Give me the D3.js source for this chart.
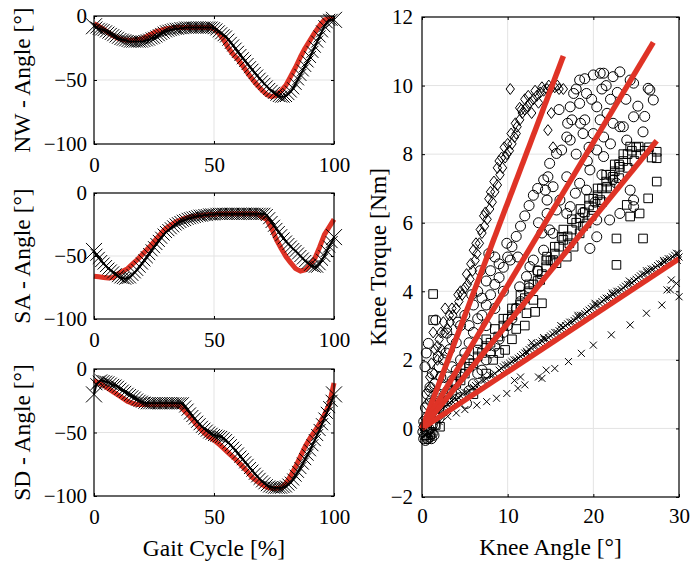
<!DOCTYPE html>
<html><head><meta charset="utf-8">
<script src="https://cdn.jsdelivr.net/npm/d3@7"></script>
<style>
body{margin:0;background:#fff}
svg{display:block}
text{font-family:"Liberation Serif","Times New Roman",serif;fill:#000}
</style>
</head><body>
<svg id="c" width="691" height="566"></svg>
<script>
// ---------- DATA ----------
const gaitTicks = [0, 50, 100];
const angleTicks = [-100, -50, 0];
const gaitMeasX = d3.range(0, 101, 1);
const gaitRefX = d3.range(0, 101, 2);

const nwMeas = [-8,-9,-10,-10.5,-11,-12,-13,-14,-15,-16,-17,-18,-18.5,-19,-19.5,-20,-20,-20,-20,-20,-20,-19.5,-19,-18.5,-17.5,-17,-16,-15,-14,-13,-12,-11.5,-11,-10.5,-10,-10,-9.5,-9.5,-9,-9,-9,-9,-9,-9,-9,-9,-9,-9,-9,-9,-9.5,-10.5,-12,-13.5,-15,-16,-18.5,-21,-23,-25.5,-28,-30.5,-33,-35,-37.5,-40,-42,-44.5,-46.5,-49,-51,-53,-55,-57,-58.5,-60,-61.5,-62.5,-63,-63,-62.5,-61,-59,-56.5,-53,-49.5,-46,-42.5,-39,-35.5,-32,-28,-24,-20,-16,-12,-8,-5,-3,-3,-3];
const nwRef = [-6,-8,-10.5,-13,-15.5,-17.5,-18.5,-19,-19,-18.5,-18,-16,-14,-12,-11,-10,-9.5,-9,-9,-9,-9,-9,-9,-9,-9,-10,-13.5,-18.5,-25,-30,-34,-39,-44.5,-49.5,-54,-58,-61.5,-63,-62,-58.5,-54,-47,-40,-32,-25,-19,-13,-7.5,-3,-2,-2];

const saMeas = [-46,-49,-51.5,-54,-56,-58,-60,-61.5,-63,-64.5,-66,-67,-67.5,-68,-67.5,-67,-65,-63,-61,-58.5,-56,-53.5,-51,-48.5,-45.5,-43,-40.5,-38,-35.5,-33,-31,-29.5,-28,-26.5,-25,-24,-23,-22,-21.5,-20.5,-20,-19.5,-19,-18.5,-18,-18,-17.5,-17.5,-17,-17,-17,-16.5,-16.5,-16.5,-16.5,-16.5,-16.5,-16.5,-16.5,-16.5,-16.5,-16.5,-16.5,-16.5,-16.5,-16.5,-16.5,-16.5,-16.5,-16.5,-16.5,-16.5,-17.5,-20,-23,-26,-28.5,-31,-33.5,-36,-38.5,-40.5,-42.5,-44.5,-46,-48,-50,-52,-54,-55.5,-57,-58,-58.5,-58.5,-56.5,-53,-50,-46,-42.5,-39,-35];
const saRef = [-66,-66.5,-67,-67.5,-67,-64,-62,-60,-56.5,-53,-49,-45,-41,-36.5,-32,-28,-25.5,-23,-21.5,-20,-19,-18.5,-18,-17.5,-17,-17,-16.5,-16.5,-16.5,-16.5,-16.5,-16.5,-16.5,-16.5,-16.5,-19,-21,-28,-37,-44,-50.5,-55.5,-60,-62,-61,-57,-52,-43,-33,-27,-21];

const sdMeas = [-20,-12,-10,-9,-9.5,-10,-10.5,-11.5,-12.5,-13,-14,-15.5,-17,-18,-19.5,-20.5,-21.5,-22.5,-24,-25,-25.7,-26.5,-27,-27,-27,-27,-27,-27,-27,-27,-27,-27,-27,-27,-27,-27,-27,-27,-29.5,-32,-35,-37,-39,-41.5,-43.5,-45.5,-47,-48.5,-50,-51,-52,-52.5,-53,-53.5,-54.5,-56,-58,-60,-62,-64,-66.5,-69,-71,-73.5,-75.5,-78,-80,-82.5,-84.5,-86.5,-88.5,-90,-91.5,-92.5,-93,-93.5,-93.5,-93.5,-93.5,-93,-92.5,-91,-89.5,-87,-84,-81,-78,-74.5,-71,-67.5,-64,-60,-56,-52,-48,-43.5,-39,-34.5,-30,-25,-20];
const sdRef = [-9,-11,-13,-15.5,-18,-20.5,-23,-25.5,-27,-28,-28,-28,-28,-28,-28,-28,-28,-28,-29.5,-33.5,-37.5,-42,-46.5,-50.5,-53.5,-56,-59,-62.5,-66,-69.5,-73,-77,-81,-85.5,-88.5,-91,-93,-94,-94,-93.5,-90,-84,-77,-69,-61,-54.5,-49,-43,-36,-28,-11];

const panelLabels = ["NW - Angle [°]", "SA - Angle [°]", "SD - Angle [°]"];

const kneeAngleTicks = [0, 10, 20, 30];
const torqueTicks = [-2, 0, 2, 4, 6, 8, 10, 12];

// fitted lines (end points, all start at origin)
const fitAngleEnd = [16.5, 27.0, 27.4, 30.0];
const fitTorqueEnd = [10.86, 11.26, 8.39, 4.95];

const diamondPts = [[0.1,0.05],[0.3,0.3],[0.5,0.7],[0.7,1.1],[0.9,1.5],[1.1,1.9],[1.3,2.8],[1.5,2.3],[1.8,2.0],[2.0,2.6],[2.3,2.3],[2.7,3.5],[2.6,2.8],[3.0,2.9],[3.3,3.1],[3.6,3.3],[4.0,3.5],[4.3,3.7],[4.7,3.9],[5.0,4.1],[5.3,4.2],[5.6,4.35],[5.9,4.6],[6.2,4.9],[6.4,5.1],[6.7,5.4],[7.0,5.7],[7.3,5.9],[7.6,6.1],[7.9,6.4],[8.2,6.6],[8.5,6.9],[8.8,7.1],[9.1,7.4],[9.4,7.6],[9.7,7.9],[9.9,8.0],[10.2,8.1],[10.5,8.3],[10.8,8.5],[11.1,8.8],[11.4,9.0],[11.7,9.2],[12.0,9.3],[12.3,9.4],[12.6,9.5],[13.0,9.6],[13.4,9.7],[13.8,9.8],[14.2,9.85],[14.6,9.9],[15.0,9.9],[15.5,9.95],[16.0,9.9],[16.5,9.9],[10.3,9.9],[11.4,9.35],[12.0,9.6],[15.1,9.2],[14.7,8.7],[15.3,8.2],[8.0,6.9],[9.0,7.8],[6.0,5.2],[4.2,3.9],[3.2,3.3],[7.2,6.2],[10.0,8.3],[11.0,8.6],[12.8,9.2],
 [1.0,1.2],[1.4,1.6],[1.8,2.4],[2.2,2.8],[2.5,3.1],[3.5,3.5],[4.5,4.0],[5.2,4.5],[5.7,4.8],[6.3,5.4],[6.8,5.8],[7.4,6.3],[7.8,6.7],[8.4,7.2],[8.8,7.6],[9.3,7.9],[9.6,8.2],[10.4,8.6],[10.9,8.9],[11.6,9.3],[12.4,9.7],[13.2,9.85],[14.0,9.95],[14.8,10.0],[15.8,10.0],[13.6,9.5]];

const circlePts = [[0.2,0.2],[0.4,0.6],[0.35,1.8],[0.5,2.2],[0.74,2.48],[0.93,1.2],[1.0,0.8],[1.6,3.16],[1.9,2.1],[2.9,2.78],[1.2,1.6],[0.6,1.0],[1.5,1.3],[2.2,1.5],[2.5,2.0],[3.2,2.3],[3.5,1.8],[4.0,2.5],[4.5,3.0],[5.0,3.3],[5.5,3.0],[6.0,3.6],[6.5,4.0],[7.0,3.8],[7.5,4.3],[8.0,4.6],[8.5,5.0],[9.0,4.8],[9.9,5.4],[10.3,4.91],[11.2,5.0],[12.6,4.72],[11.4,4.13],[12.2,4.43],[13.0,4.91],[14.2,5.2],[14.9,5.79],[15.3,5.69],[15.7,6.37],[16.9,6.27],[14.6,6.66],[15.3,7.05],[14.2,7.25],[14.9,7.73],[15.7,8.02],[14.4,6.95],[14.7,7.34],[16.3,8.12],[16.9,8.5],[17.3,8.41],[17.5,9.0],[17.3,9.38],[17.7,9.77],[18.4,10.16],[18.4,9.48],[19.2,9.77],[20.0,10.31],[20.8,10.36],[21.2,10.36],[22.3,10.26],[23.1,10.4],[24.3,10.16],[24.7,10.07],[26.4,9.92],[26.6,9.87],[27.0,9.58],[20.4,9.38],[21.6,9.19],[22.3,8.9],[23.1,8.8],[24.7,9.09],[25.8,8.65],[23.9,8.41],[23.5,8.8],[21.2,8.5],[20.4,8.12],[21.2,7.93],[19.6,7.54],[18.4,7.15],[17.9,6.86],[17.3,6.47],[19.2,6.95],[22.7,7.15],[22.3,7.25],[24.3,6.95],[24.7,6.66],[24.7,6.47],[23.1,6.27],[16.1,6.66],[14.6,6.27],[16.9,7.34],[20.4,5.59],[19.6,5.25],[21.9,6.08],[20.4,6.08],[19.0,9.0],[19.8,9.6],[21.0,9.9],[22.0,9.6],[18.8,8.6],[19.5,8.2],[20.8,9.0],[17.0,8.9],[18.0,8.0],[3.0,0.8],[4.0,1.0],[5.2,0.73],[6.0,1.3],[7.0,1.7],[4.5,1.5],[8.0,2.2],[9.0,2.6],[10.0,3.0],[11.0,3.5],[5.5,2.0],[6.5,2.5],[7.5,3.0],[8.5,3.5],[9.5,4.0],[3.0,1.5],[0.3,-0.2],[0.6,-0.3],[0.9,-0.25],[1.2,-0.15],[0.5,-0.05],[1.5,0.1],[2.0,0.3],
 [1.5,0.8],[2.0,1.0],[2.5,1.2],[3.0,1.1],[3.5,1.4],[4.0,1.7],[4.5,2.0],[5.0,2.2],[5.5,2.5],[6.0,2.8],[6.5,3.2],[7.0,3.3],[7.5,3.6],[8.0,3.9],[8.5,4.2],[9.0,4.4],[9.5,4.7],[10.0,5.0],[10.5,5.3],[11.0,5.6],[11.5,5.9],[12.0,6.2],[12.5,6.5],[13.0,6.8],[13.5,7.0],[3.5,2.6],[4.2,3.1],[5.8,3.9],[6.8,4.6],[7.8,5.1],[2.0,1.8],[2.8,2.2],[1.0,0.4],[2.5,0.5],[4.5,0.9],[5.5,1.1],[6.5,1.6],[7.5,2.0],[8.5,2.4],[9.5,2.8],[10.5,3.2],[11.5,3.7],[12.5,4.1],[13.5,4.6],[16.0,9.3],[18.0,9.9],[19.0,10.2],[21.5,10.0],[22.8,9.8],[23.8,9.6],[25.2,9.4],[26.0,9.1],[18.5,8.9],[20.0,8.6],[22.0,8.3],[19.3,7.8],[21.0,7.4],[20.2,6.6],[18.8,6.3],[13.6,6.0],[14.0,5.7],[0.1,-0.1],[0.2,-0.3],[0.4,-0.35],[0.7,-0.3],[1.1,-0.3],[1.4,-0.2],[0.8,0.0],[1.2,0.1]];

const squarePts = [[0.3,0.05],[0.6,0.15],[1.0,0.3],[1.3,3.92],[1.3,3.16],[1.5,0.4],[2.0,0.6],[2.1,0.05],[2.5,0.8],[3.0,1.0],[3.5,1.1],[4.0,1.3],[4.5,1.4],[5.0,1.6],[5.5,1.8],[6.0,1.9],[6.5,2.1],[7.0,2.2],[7.5,2.4],[8.0,2.5],[8.3,2.0],[8.9,2.68],[9.7,2.29],[9.5,3.0],[10.0,3.2],[10.5,3.3],[11.0,3.5],[11.5,3.6],[12.2,3.36],[12.0,3.8],[12.5,4.0],[13.0,3.75],[13.0,4.2],[13.5,4.3],[13.8,4.33],[14.0,3.65],[14.0,4.5],[14.6,5.01],[14.5,4.7],[15.0,4.9],[15.3,4.91],[15.7,4.82],[15.5,5.1],[16.0,5.3],[16.3,5.59],[16.9,5.01],[16.5,5.5],[17.0,5.6],[17.7,5.3],[17.5,5.8],[18.0,6.0],[18.4,5.69],[18.4,6.13],[19.0,6.3],[19.2,5.98],[19.5,6.5],[20.0,6.37],[20.0,6.7],[20.5,6.8],[20.8,6.66],[21.0,7.0],[21.6,7.05],[21.5,7.2],[22.0,7.4],[22.3,7.34],[22.5,7.5],[23.0,7.7],[23.1,7.63],[23.5,7.8],[24.0,8.0],[24.3,8.22],[24.5,8.1],[25.0,8.2],[25.3,8.22],[27.4,8.07],[27.4,7.88],[27.4,7.2],[26.4,6.71],[25.4,6.27],[24.3,6.18],[23.9,6.52],[25.8,5.54],[22.7,5.54],[22.7,4.77],[6.0,1.0],[9.0,2.2],[10.5,2.6],[12.0,3.0],[11.0,2.9],[13.2,3.4],[7.5,1.6],
 [1.5,0.6],[2.5,0.9],[3.5,1.3],[4.5,1.6],[5.5,1.9],[6.5,2.3],[7.5,2.6],[8.5,2.9],[9.5,3.2],[10.5,3.5],[11.5,3.9],[12.5,4.2],[13.5,4.6],[14.5,4.9],[15.5,5.3],[16.5,5.8],[17.5,6.1],[18.5,6.4],[19.5,6.7],[20.5,7.0],[21.5,7.4],[22.5,7.7],[23.5,8.0],[24.0,7.6],[23.0,7.3],[22.0,7.0],[21.0,6.6],[19.8,6.2],[18.8,5.9],[17.2,5.4],[25.5,8.0],[26.0,8.1],[26.5,8.2],[26.8,7.9],[24.8,7.8],[0.5,-0.2],[1.0,-0.1],[1.6,0.1]];

const crossPts = [[0.5,0.2],[1.0,0.35],[1.5,0.45],[2.0,0.55],[2.5,0.6],[3.0,0.7],[3.5,0.8],[4.0,0.85],[4.5,0.95],[5.0,1.05],[5.5,1.1],[6.0,1.2],[6.5,1.3],[7.0,1.4],[7.5,1.45],[8.0,1.55],[8.5,1.6],[9.0,1.7],[9.5,1.8],[10.0,1.85],[10.5,1.95],[11.0,2.0],[11.5,2.1],[12.0,2.2],[12.5,2.3],[13.0,2.4],[13.4,2.48],[14.0,2.55],[14.5,2.6],[15.0,2.7],[15.5,2.8],[16.0,2.85],[16.5,2.95],[17.0,3.05],[17.5,3.1],[18.0,3.2],[18.5,3.3],[19.0,3.35],[19.5,3.45],[20.0,3.55],[20.5,3.6],[21.0,3.7],[21.5,3.8],[22.0,3.85],[22.5,3.95],[23.0,4.0],[23.5,4.1],[24.0,4.2],[24.5,4.25],[25.0,4.35],[25.5,4.45],[26.0,4.5],[26.5,4.6],[27.0,4.65],[27.5,4.75],[28.0,4.8],[28.5,4.9],[29.0,4.95],[29.5,5.05],[29.7,5.11],[30.0,5.0],[29.8,4.9],[12.2,2.25],[12.8,2.5],[14.2,2.65],[16.2,3.0],[18.2,3.3],[20.2,3.65],[22.2,3.95],[24.2,4.3],[26.2,4.6],[28.2,4.9],[6.4,0.68],[7.55,0.78],[8.7,0.88],[9.9,1.02],[11.2,1.17],[12.0,1.27],[14.0,1.46],[15.5,1.75],[17.1,1.95],[18.6,2.19],[20.0,2.43],[22.1,2.73],[24.3,3.02],[26.2,3.36],[28.0,3.6],[28.6,4.04],[29.0,4.04],[29.1,4.33],[29.7,4.23],[30.0,3.84],[10.8,1.4],[11.5,1.5],[13.6,1.5],[14.5,1.7],[5.0,0.55],[4.0,0.45],[3.0,0.35],[2.0,0.2],[0.2,-0.1],[0.4,-0.2],[0.8,-0.3],[1.0,-0.2],[1.3,-0.1],
 [10.25,1.9],[10.75,2.0],[11.25,2.05],[11.75,2.15],[12.25,2.2],[12.75,2.35],[13.25,2.4],[13.75,2.5],[14.25,2.6],[14.75,2.65],[15.25,2.75],[15.75,2.8],[16.25,2.9],[16.75,3.0],[17.25,3.1],[17.75,3.15],[18.25,3.25],[18.75,3.3],[19.25,3.4],[19.75,3.5],[20.25,3.6],[20.75,3.65],[21.25,3.75],[21.75,3.8],[22.25,3.9],[22.75,4.0],[23.25,4.05],[23.75,4.15],[24.25,4.2],[24.75,4.3],[25.25,4.4],[25.75,4.5],[26.25,4.55],[26.75,4.65],[27.25,4.7],[27.75,4.8],[28.25,4.85],[28.75,4.95],[29.25,5.0],[29.9,5.1],[1.25,0.4],[2.25,0.55],[3.25,0.75],[4.25,0.9],[5.25,1.05],[6.25,1.25],[7.25,1.4],[8.25,1.55],[9.25,1.75],[9.75,1.85]];

// ---------- DRAW ----------
const svg = d3.select("#c");
const FS_TICK = 21, FS_LAB = 23.5;
const gridCol = "#e3e3e3";
const redCol = "#df3326";

function frame(g, x0, y0, x1, y1) {
  g.append("rect").attr("x", x0).attr("y", y0).attr("width", x1 - x0).attr("height", y1 - y0)
    .attr("fill", "none").attr("stroke", "#000").attr("stroke-width", 1.2);
}

function styleAxis(sel, showText) {
  sel.select(".domain").remove();
  sel.selectAll(".tick line").attr("stroke", "#000").attr("stroke-width", 1);
  sel.selectAll(".tick text").style("font-size", FS_TICK + "px").style("font-family", '"Liberation Serif",serif');
  if (!showText) sel.selectAll(".tick text").remove();
}

// left panels
const xG = d3.scaleLinear().domain([0, 100]).range([94, 334]);
const panelTops = [16, 193, 369];
const panelBots = [144, 319, 496];
const meas = [nwMeas, saMeas, sdMeas];
const refs = [nwRef, saRef, sdRef];

const xMark = (s) => `M${-s},${-s}L${s},${s}M${-s},${s}L${s},${-s}`;

for (let i = 0; i < 3; i++) {
  const y = d3.scaleLinear().domain([-100, 0]).range([panelBots[i], panelTops[i]]);
  const g = svg.append("g");
  g.append("g").selectAll("line").data(gaitTicks.slice(1, -1)).join("line")
    .attr("x1", d => xG(d)).attr("x2", d => xG(d)).attr("y1", panelTops[i]).attr("y2", panelBots[i])
    .attr("stroke", gridCol).attr("stroke-width", 1);
  g.append("g").selectAll("line").data(angleTicks.slice(1, -1)).join("line")
    .attr("y1", d => y(d)).attr("y2", d => y(d)).attr("x1", xG(0)).attr("x2", xG(100))
    .attr("stroke", gridCol).attr("stroke-width", 1);

  const refData = refs[i].map((v, k) => [gaitRefX[k], v]);
  g.append("path").datum(refData)
    .attr("d", d3.line().x(d => xG(d[0])).y(d => y(d[1])))
    .attr("fill", "none").attr("stroke", redCol).attr("stroke-width", 5).attr("stroke-linejoin", "round");

  const mData = meas[i].map((v, k) => [gaitMeasX[k], v]);
  g.append("path").datum(mData)
    .attr("d", d3.line().x(d => xG(d[0])).y(d => y(d[1])))
    .attr("fill", "none").attr("stroke", "#000").attr("stroke-width", 2);
  g.append("g").selectAll("path").data(mData).join("path")
    .attr("transform", d => `translate(${xG(d[0])},${y(d[1])})`)
    .attr("d", (d, k) => (k === 0 || k === mData.length - 1) ? xMark(8) : xMark(6))
    .attr("fill", "none").attr("stroke", "#000").attr("stroke-width", 1);

  frame(g, xG(0), panelTops[i], xG(100), panelBots[i]);

  const ab = g.append("g").attr("transform", `translate(0,${panelBots[i]})`)
    .call(d3.axisBottom(xG).tickValues(gaitTicks).tickFormat(d3.format("d")).tickSizeInner(-3).tickSizeOuter(0).tickPadding(13));
  styleAxis(ab, true);
  const at = g.append("g").attr("transform", `translate(0,${panelTops[i]})`)
    .call(d3.axisTop(xG).tickValues(gaitTicks).tickSizeInner(-3).tickSizeOuter(0));
  styleAxis(at, false);
  const al = g.append("g").attr("transform", `translate(${xG(0)},0)`)
    .call(d3.axisLeft(y).tickValues(angleTicks).tickFormat(d3.format("d")).tickSizeInner(-3).tickSizeOuter(0).tickPadding(7));
  styleAxis(al, true);
  const ar = g.append("g").attr("transform", `translate(${xG(100)},0)`)
    .call(d3.axisRight(y).tickValues(angleTicks).tickSizeInner(-3).tickSizeOuter(0));
  styleAxis(ar, false);

  const cy = (panelTops[i] + panelBots[i]) / 2;
  svg.append("text").attr("transform", `translate(30,${cy}) rotate(-90)`)
    .attr("text-anchor", "middle").style("font-size", FS_LAB + "px").text(panelLabels[i]);
}
svg.append("text").attr("x", xG(50)).attr("y", 556).attr("text-anchor", "middle")
  .style("font-size", FS_LAB + "px").text("Gait Cycle [%]");

// right scatter
const xK = d3.scaleLinear().domain([0, 30]).range([422, 679]);
const yT = d3.scaleLinear().domain([-2, 12]).range([497, 17]);
const gR = svg.append("g");
gR.append("g").selectAll("line").data(kneeAngleTicks.slice(1, -1)).join("line")
  .attr("x1", d => xK(d)).attr("x2", d => xK(d)).attr("y1", yT(12)).attr("y2", yT(-2))
  .attr("stroke", gridCol);
gR.append("g").selectAll("line").data(torqueTicks.slice(1, -1)).join("line")
  .attr("y1", d => yT(d)).attr("y2", d => yT(d)).attr("x1", xK(0)).attr("x2", xK(30))
  .attr("stroke", gridCol);

const mk = gR.append("g").attr("fill", "none").attr("stroke", "#000").attr("stroke-width", 1);
mk.selectAll("path.sq").data(squarePts).join("path").attr("class", "sq")
  .attr("transform", d => `translate(${xK(d[0])},${yT(d[1])})`).attr("d", "M-4.3,-4.3H4.3V4.3H-4.3Z");
mk.selectAll("circle").data(circlePts).join("circle")
  .attr("cx", d => xK(d[0])).attr("cy", d => yT(d[1])).attr("r", 5);
mk.selectAll("path.dm").data(diamondPts).join("path").attr("class", "dm")
  .attr("transform", d => `translate(${xK(d[0])},${yT(d[1])})`).attr("d", "M0,-5.5L4.2,0L0,5.5L-4.2,0Z");
mk.selectAll("path.cr").data(crossPts).join("path").attr("class", "cr")
  .attr("transform", d => `translate(${xK(d[0])},${yT(d[1])})`).attr("d", xMark(3.5));

gR.append("g").selectAll("line").data(fitAngleEnd).join("line")
  .attr("x1", xK(0)).attr("y1", yT(0))
  .attr("x2", d => xK(d)).attr("y2", (d, k) => yT(fitTorqueEnd[k]))
  .attr("stroke", redCol).attr("stroke-width", 5.5);

frame(gR, xK(0), yT(12), xK(30), yT(-2));
const rb = gR.append("g").attr("transform", `translate(0,${yT(-2)})`)
  .call(d3.axisBottom(xK).tickValues(kneeAngleTicks).tickFormat(d3.format("d")).tickSizeInner(-3).tickSizeOuter(0).tickPadding(11));
styleAxis(rb, true);
const rt = gR.append("g").attr("transform", `translate(0,${yT(12)})`)
  .call(d3.axisTop(xK).tickValues(kneeAngleTicks).tickSizeInner(-3).tickSizeOuter(0));
styleAxis(rt, false);
const rl = gR.append("g").attr("transform", `translate(${xK(0)},0)`)
  .call(d3.axisLeft(yT).tickValues(torqueTicks).tickFormat(d3.format("d")).tickSizeInner(-3).tickSizeOuter(0).tickPadding(9));
styleAxis(rl, true);
const rr = gR.append("g").attr("transform", `translate(${xK(30)},0)`)
  .call(d3.axisRight(yT).tickValues(torqueTicks).tickSizeInner(-3).tickSizeOuter(0));
styleAxis(rr, false);

svg.append("text").attr("x", xK(15)).attr("y", 555).attr("text-anchor", "middle")
  .style("font-size", FS_LAB + "px").text("Knee Angle [°]");
svg.append("text").attr("transform", `translate(386,${(yT(12) + yT(-2)) / 2}) rotate(-90)`)
  .attr("text-anchor", "middle").style("font-size", FS_LAB + "px").text("Knee Torque [Nm]");
</script>
</body></html>
